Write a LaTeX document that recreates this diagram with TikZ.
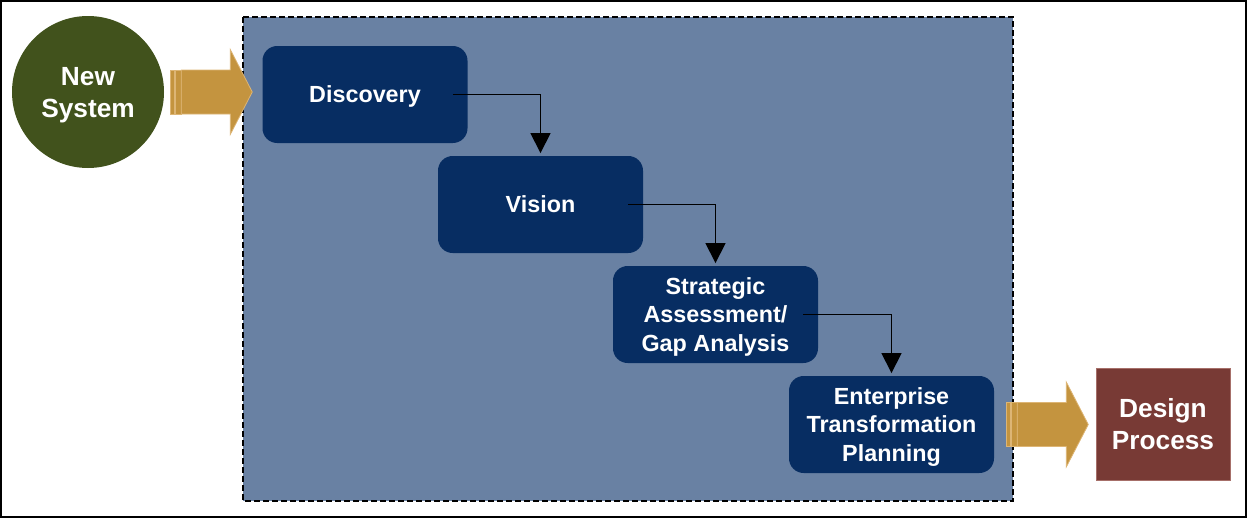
\documentclass[tikz,border=0pt]{standalone}
\usepackage{fontspec}
\setmainfont{Liberation Sans}
\usetikzlibrary{arrows.meta}

\definecolor{navy}{HTML}{072D62}
\definecolor{panelblue}{HTML}{6981A3}
\definecolor{mossgreen}{HTML}{41521C}
\definecolor{brickred}{HTML}{783A35}
\definecolor{brickedge}{HTML}{A66F69}
\definecolor{gold}{HTML}{C4943F}
\definecolor{goldedge}{HTML}{DDB575}

\tikzset{
  stepbox/.style={fill=navy, rounded corners=11pt, minimum width=153.75pt, minimum height=72.75pt,
    inner sep=0pt, text depth=0pt, text=white, align=center, font=\bfseries\fontsize{17.5}{21.5}\selectfont},
  flow/.style={-{Triangle[width=15pt,length=15pt]}, line width=1.1pt, shorten >=2pt},
  fatarrow/.style={fill=gold, draw=goldedge, line width=0.6pt},
}

% block arrow, tail at #1
\newcommand{\fatarrow}[1]{%
  \begin{scope}[shift={(#1)}]
    \filldraw[fatarrow] (0,-22) rectangle (4,22);
    \filldraw[fatarrow] (5.5,-22) rectangle (11,22);
    \filldraw[fatarrow] (11,-22) -- (60,-22) -- (60,-42.5) -- (82,0) -- (60,42.5) -- (60,22) -- (11,22) -- cycle;
  \end{scope}}

\begin{document}
\begin{tikzpicture}[x=0.75pt, y=-0.75pt]
\useasboundingbox (0,0) rectangle (1247,518);
\draw[line width=1.5pt] (1,1) rectangle (1246,517);

% process panel
\draw[fill=panelblue, line width=1.2pt, dash pattern=on 4.5pt off 2.25pt] (243,17) rectangle (1013,501);

\node[circle, fill=mossgreen, minimum size=114pt, inner sep=0pt, text depth=0pt, text=white, align=center,
  font=\bfseries\fontsize{19.7}{24}\selectfont] (newsys) at (88,92) {New\\System};

\node[stepbox] (disc) at (365,94.5) {Discovery};
\node[stepbox] (vis) at (540.5,204.5) {Vision};
\node[stepbox] (strat) at (715.5,314.5) {Strategic\\Assessment/\\Gap Analysis};
\node[stepbox] (ent) at (891.5,424.5) {Enterprise\\Transformation\\Planning};

\node[fill=brickred, draw=brickedge, line width=0.6pt, minimum width=100.5pt, minimum height=84pt,
  text=white, align=center, font=\bfseries\fontsize{19.7}{23.5}\selectfont] (design) at (1163,424) {Design\\Process};

\draw[flow] ([xshift=-11.25pt]disc.east) -| (vis.north);
\draw[flow] ([xshift=-11.25pt]vis.east) -| (strat.north);
\draw[flow] ([xshift=-11.25pt]strat.east) -| (ent.north);

\fatarrow{[xshift=4.5pt]newsys.east}
\fatarrow{[xshift=9pt]ent.east}
\end{tikzpicture}
\end{document}
